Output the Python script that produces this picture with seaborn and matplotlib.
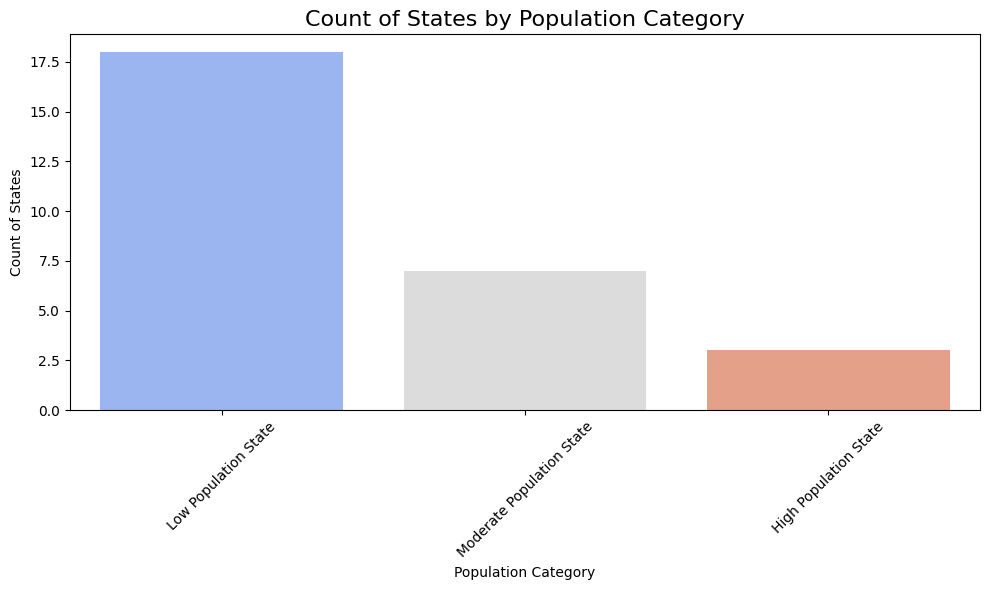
import matplotlib
matplotlib.use("Agg")

import pandas as pd
import seaborn as sns
import matplotlib.pyplot as plt

categorie = ["Low Population State", "Moderate Population State", "High Population State"]
conteggi = [18, 7, 3]

df = pd.DataFrame({"Population Category": categorie, "Count of States": conteggi})

plt.figure(figsize=(9.89, 5.9), dpi=100)
sns.barplot(data=df, x="Population Category", y="Count of States",
            hue="Population Category", palette="coolwarm", legend=False)
plt.title("Count of States by Population Category", fontsize=16)
plt.xlabel("Population Category")
plt.ylabel("Count of States")
plt.xticks(rotation=45)
plt.subplots_adjust(left=70 / 989, right=980 / 989, top=1 - 34 / 590, bottom=1 - 410 / 590)
plt.savefig("out.png", dpi=100)
